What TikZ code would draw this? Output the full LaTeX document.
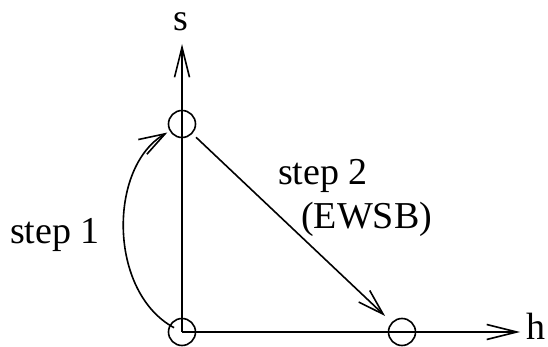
\documentclass[tikz,border=0pt]{standalone}
\usepackage{fontspec}
\setmainfont{Liberation Serif}
\usetikzlibrary{arrows.meta}
\begin{document}
\begin{tikzpicture}[x=1pt,y=1pt,
  ln/.style={line width=1.6pt},
  dot/.style={circle,draw,line width=1.6pt,minimum size=27pt,inner sep=0pt},
  tip/.style={-{Straight Barb[length=30pt,width=15pt,line width=1.6pt]}},
  lbl/.style={font=\fontsize{38}{44}\selectfont,inner sep=0pt}]
\useasboundingbox (0,0) rectangle (548,347);
\node[dot] (o) at (182,15) {};
\node[dot] (t) at (182,223) {};
\node[dot] (r) at (402,15) {};
\coordinate (stip) at (182,303);
\coordinate (htip) at (520,15);
\draw[ln,tip] (o.center) -- (stip);
\draw[ln,tip] (o.center) -- (htip);
\draw[ln,-{Straight Barb[length=26pt,width=16pt,line width=1.6pt]},shorten <=5pt,shorten >=9pt] (t) -- (r);
\draw[ln,-{Straight Barb[length=26pt,width=17pt,line width=1.6pt]},shorten <=9pt,shorten >=17pt] (o.center) .. controls (108,55) and (108,180) .. (t.center);
\node[lbl,anchor=base] (sl) at (181,316) {s};
\node[lbl,anchor=base west] (hl) at (526,7) {h};
\node[lbl,anchor=base] (s1) at (55,103) {step 1};
\node[lbl,anchor=base west] (s2) at (278,162) {step 2};
\node[lbl,anchor=base west] (s3) at (301,118) {(EWSB)};
\end{tikzpicture}
\end{document}
